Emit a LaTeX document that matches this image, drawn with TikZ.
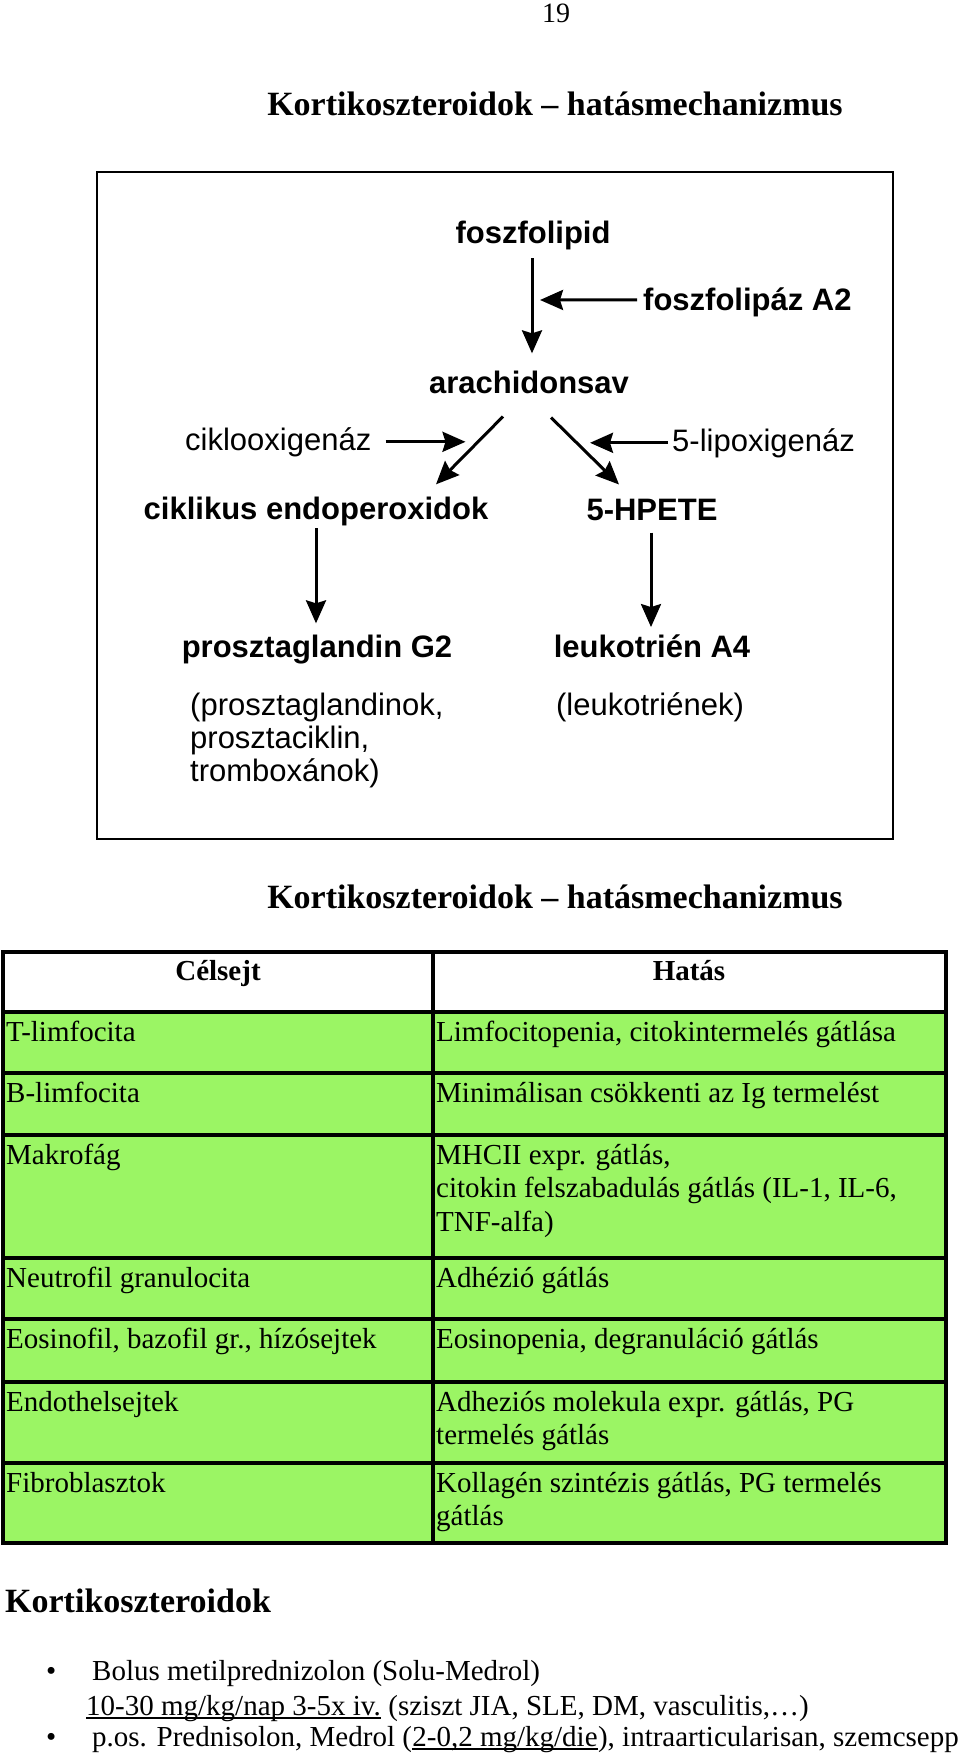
\documentclass[tikz,border=0pt]{standalone}
\usepackage{fontspec}
\setmainfont{Liberation Serif}
\newfontfamily\diagfont{Liberation Sans}
\usetikzlibrary{arrows.meta,calc}
\definecolor{tabgreen}{RGB}{155,245,100}
\tikzset{
  dg/.style={font=\diagfont\fontsize{31}{38}\selectfont, inner sep=0pt},
  dgb/.style={font=\diagfont\bfseries\fontsize{31}{38}\selectfont, inner sep=0pt},
  arr/.style={line width=3pt, -{Stealth[length=23pt,width=20pt,inset=3pt]}},
  tx/.style={font=\fontsize{29}{33}\selectfont, inner sep=0pt, anchor=base west},
  txb/.style={font=\bfseries\fontsize{29}{33}\selectfont, inner sep=0pt, anchor=base},
  ttl/.style={font=\bfseries\fontsize{34}{40}\selectfont, inner sep=0pt, anchor=base},
  grid/.style={line width=3.5pt},
  ul/.style={line width=1.6pt}
}
\begin{document}
\begin{tikzpicture}[x=1pt,y=-1pt]
\useasboundingbox (0,0) rectangle (960,1756);
\fill[white] (0,0) rectangle (960,1756);

% page number and titles
\node[font=\fontsize{28}{32}\selectfont, inner sep=0pt, anchor=base] (pn) at (556,23) {19};
\node[ttl] (t1) at (555,115) {Kortikoszteroidok – hatásmechanizmus};

% diagram frame
\draw[line width=2.5pt] (97,172) rectangle (893,839);

% diagram nodes
\node[dgb, anchor=base] (fp) at (533,243) {foszfolipid};
\node[dgb, anchor=base west] (fa2) at (643,310) {foszfolipáz A2};
\node[dgb, anchor=base] (ar) at (529,393) {arachidonsav};
\node[dg, anchor=base west] (ck) at (185,450) {ciklooxigenáz};
\node[dg, anchor=base west] (lx) at (672,451) {5-lipoxigenáz};
\node[dgb, anchor=base] (ce) at (316,519) {ciklikus endoperoxidok};
\node[dgb, anchor=base] (hp) at (652,520) {5-HPETE};
\node[dgb, anchor=base] (pg) at (317,657) {prosztaglandin G2};
\node[dgb, anchor=base] (lt) at (652,657) {leukotrién A4};
\node[dg, anchor=base west] (pga) at (190,715) {(prosztaglandinok,};
\node[dg, anchor=base west] (pgb) at (190,748) {prosztaciklin,};
\node[dg, anchor=base west] (pgc) at (190,781) {tromboxánok)};
\node[dg, anchor=base] (lts) at (650,715) {(leukotriének)};

\coordinate (m1) at (532,300);

% diagram arrows
\draw[arr] ($(fp.south)+(-1,8.5)$) -- ($(ar.north)+(3,-17)$);
\draw[arr] ($(fa2.west)+(-6,-2)$) -- ($(m1)+(8,0)$);
\draw[arr] ($(ar.south)+(-26,23)$) -- ($(ce.north)+(120,-12)$);
\draw[arr] ($(ar.south)+(22,24)$) -- ($(hp.north)+(-33,-14)$);
\draw[arr] ($(ck.east)+(14,0)$) -- ($(ck.east)+(94,0)$);
\draw[arr] ($(lx.west)+(-4,0)$) -- ($(lx.west)+(-82,0)$);
\draw[arr] ($(ce.south)+(0,2.5)$) -- ($(pg.north)+(-1,-11)$);
\draw[arr] ($(hp.south)+(-1,12)$) -- ($(lt.north)+(-1,-7)$);

% second title
\node[ttl] (t2) at (555,908) {Kortikoszteroidok – hatásmechanizmus};

% table
\fill[tabgreen] (3,1012) rectangle (946,1543);
\foreach \yy in {1012,1073,1135,1258,1319,1382,1463} {\draw[grid] (3,\yy) -- (946,\yy);}
\draw[grid] (433,952) -- (433,1543);
\draw[grid] (3,952) rectangle (946,1543);

\node[txb] (h1) at (218,980) {Célsejt};
\node[txb] (h2) at (689,980) {Hatás};

\node[tx] (a1) at (6,1041) {T-limfocita};
\node[tx] (b1) at (436,1041) {Limfocitopenia, citokintermelés gátlása};
\node[tx] (a2) at (6,1102) {B-limfocita};
\node[tx] (b2) at (436,1102) {Minimálisan csökkenti az Ig termelést};
\node[tx] (a3) at (6,1164) {Makrofág};
\node[tx] (b3a) at (436,1164) {MHCII expr. gátlás,};
\node[tx] (b3b) at (436,1197) {citokin felszabadulás gátlás (IL-1, IL-6,};
\node[tx] (b3c) at (436,1231) {TNF-alfa)};
\node[tx] (a4) at (6,1287) {Neutrofil granulocita};
\node[tx] (b4) at (436,1287) {Adhézió gátlás};
\node[tx] (a5) at (6,1348) {Eosinofil, bazofil gr., hízósejtek};
\node[tx] (b5) at (436,1348) {Eosinopenia, degranuláció gátlás};
\node[tx] (a6) at (6,1411) {Endothelsejtek};
\node[tx] (b6a) at (436,1411) {Adheziós molekula expr. gátlás, PG};
\node[tx] (b6b) at (436,1444) {termelés gátlás};
\node[tx] (a7) at (6,1492) {Fibroblasztok};
\node[tx] (b7a) at (436,1492) {Kollagén szintézis gátlás, PG termelés};
\node[tx] (b7b) at (436,1525) {gátlás};

% bottom section
\node[ttl, anchor=base west] (k) at (5,1612) {Kortikoszteroidok};
\node[tx] (bu1) at (46,1680) {•};
\node[tx] (l1) at (92,1680) {Bolus metilprednizolon (Solu-Medrol)};
\node[tx] (u1) at (86,1715) {10-30 mg/kg/nap 3-5x iv.};
\node[tx] (l2) at (u1.base east) {\ (sziszt JIA, SLE, DM, vasculitis,…)};
\node[tx] (bu2) at (46,1746) {•};
\node[tx] (l3a) at (92,1746) {p.os. Prednisolon, Medrol (};
\node[tx] (u2) at (l3a.base east) {2-0,2 mg/kg/die};
\node[tx] (l3c) at (u2.base east) {), intraarticularisan, szemcsepp};
\draw[ul] ($(u1.base west)+(0,3)$) -- ($(u1.base east)+(0,3)$);
\draw[ul] ($(u2.base west)+(0,3)$) -- ($(u2.base east)+(0,3)$);
\end{tikzpicture}
\end{document}
